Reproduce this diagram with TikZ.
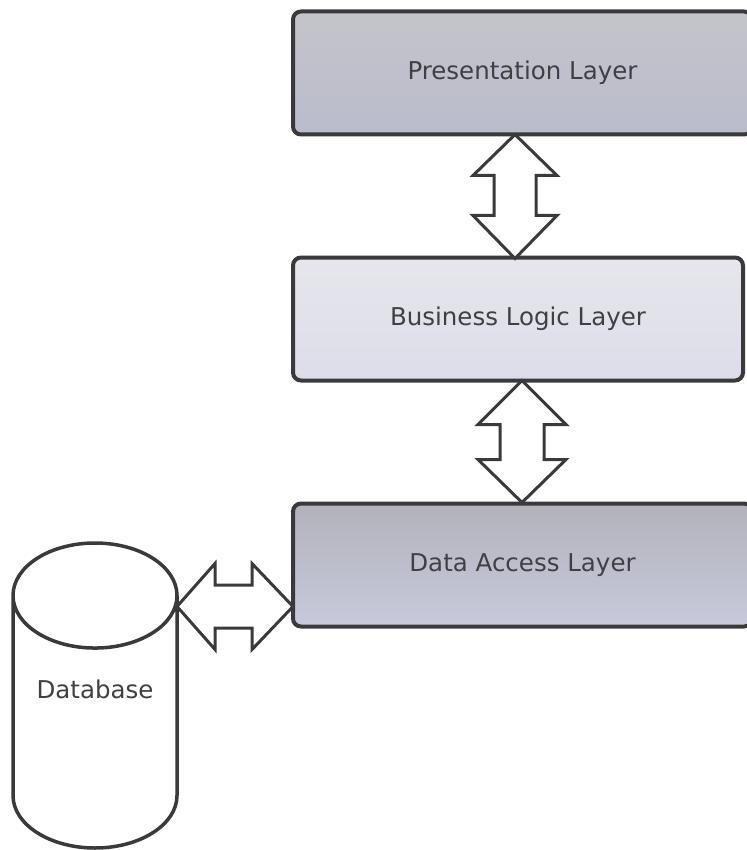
\documentclass[tikz,border=0pt]{standalone}
\usepackage{fontspec}
\setmainfont{DejaVu Sans}
\usetikzlibrary{positioning,calc,shapes.geometric}
\definecolor{edgegray}{HTML}{3A3A3C}
\definecolor{textgray}{HTML}{404044}
\definecolor{prestop}{HTML}{C4C4CA}
\definecolor{presbot}{HTML}{BABCCC}
\definecolor{biztop}{HTML}{E6E6EC}
\definecolor{bizbot}{HTML}{DCDDE8}
\definecolor{datatop}{HTML}{B2B2BA}
\definecolor{databot}{HTML}{C8CADC}
\begin{document}
\begin{tikzpicture}
[x=1pt,y=1pt,node distance=123pt,
every node/.style={font=\fontsize{24.5}{29}\selectfont,text=textgray},
layer/.style={shape=rectangle,draw=edgegray,line width=4pt,rounded corners=8pt,
  minimum width=459pt,minimum height=123pt,outer sep=0pt},
dbcyl/.style={cylinder,shape border rotate=90,aspect=0.85,draw=edgegray,
  line width=3.5pt,minimum width=164pt,minimum height=305pt,fill=white,outer sep=0pt,
  text depth=82pt},
bigarrow/.style={draw=edgegray,line width=3pt,fill=white,line join=miter}]
\useasboundingbox (0,0) rectangle (746,-850);
%%%%% layers
\node (pres) [layer,top color=prestop,bottom color=presbot] at (522.5,-73) {Presentation Layer};
\node (biz) [layer,top color=biztop,bottom color=bizbot,minimum width=450pt,
  below=of pres.south west,anchor=north west] {Business Logic Layer};
\node (data) [layer,top color=datatop,bottom color=databot,
  below=of biz.south west,anchor=north west] {Data Access Layer};
%%%%% database
\node (db) [dbcyl,anchor=south] at (95,-848) {Database};
%%%%% double arrows
%% presentation <-> business
\draw[bigarrow] ($(pres.south)+(-7.5,0)$) -- ++(42,-41) -- ++(-21,0) -- ++(0,-40)
  -- ++(21,0) -- ++(-42,-43) -- ++(-42,43) -- ++(21,0) -- ++(0,40) -- ++(-21,0) -- cycle;
%% business <-> data access
\draw[bigarrow] ($(biz.south)+(4,0)$) -- ++(44,-44) -- ++(-22,0) -- ++(0,-35)
  -- ++(22,0) -- ++(-44,-43) -- ++(-44,43) -- ++(22,0) -- ++(0,35) -- ++(-22,0) -- cycle;
%% data access <-> database
\draw[bigarrow] ($(data.west)+(0,-41.5)$) -- ++(-41,43) -- ++(0,-21.5) -- ++(-37,0)
  -- ++(0,21.5) -- (db.east |- {$(data.west)+(0,-41.5)$}) -- ++(38,-43) -- ++(0,21.5)
  -- ++(37,0) -- ++(0,-21.5) -- cycle;
\end{tikzpicture}
\end{document}
